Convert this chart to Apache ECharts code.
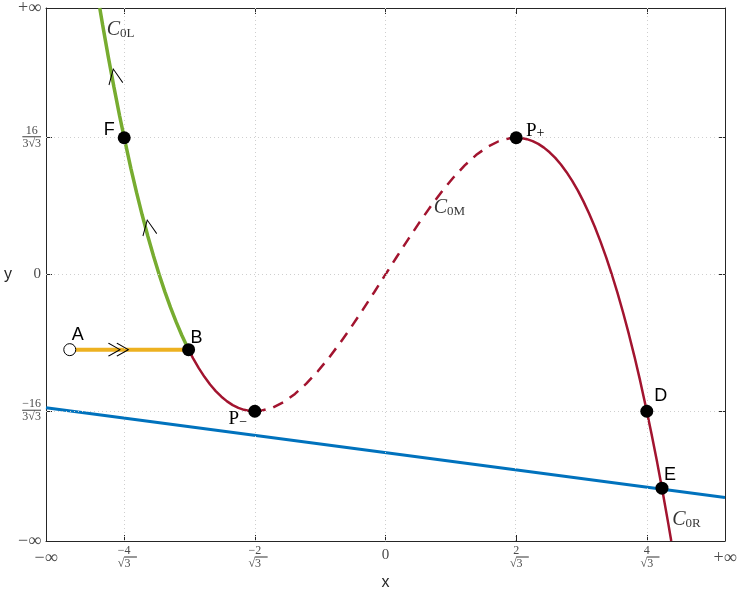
<!DOCTYPE html>
<html>
<head>
<meta charset="utf-8">
<script src="https://cdn.jsdelivr.net/npm/echarts@6/dist/echarts.min.js"></script>
<style>
  html, body { margin: 0; padding: 0; background: #fff; }
  #chart { width: 741px; height: 590px; }
</style>
</head>
<body>
<div id="chart"></div>
<script>
// axis ticks (x = -inf..+inf drawn as -3..3, y = -inf..+inf drawn as -6..6)
const xTickValues = [-3, -2.3094, -1.1547, 0, 1.1547, 2.3094, 3]
const xTickLabels = ['−∞', '−4/√3', '−2/√3', '0', '2/√3', '4/√3', '+∞']
const yTickValues = [-6, -3.0792, 0, 3.0792, 6]
const yTickLabels = ['−∞', '−16/3√3', '0', '16/3√3', '+∞']
const xGridValues = [-2.3094, -1.1547, 0, 1.1547, 2.3094]
const yGridValues = [-3.0792, 0, 3.0792]

// curves
const c0lPoints = [[-2.525, 6.0], [-2.5, 5.625], [-2.45, 4.906], [-2.4, 4.224], [-2.35, 3.578],
  [-2.309, 3.079], [-2.25, 2.39], [-2.2, 1.848], [-2.15, 1.338], [-2.1, 0.861], [-2.05, 0.415],
  [-2.0, 0], [-1.95, -0.385], [-1.9, -0.741], [-1.85, -1.068], [-1.8, -1.368], [-1.74, -1.692]]
const c0LowPoints = [[-1.74, -1.692], [-1.7, -1.887], [-1.65, -2.108], [-1.6, -2.304], [-1.55, -2.476],
  [-1.5, -2.625], [-1.45, -2.751], [-1.4, -2.856], [-1.35, -2.940], [-1.3, -3.003], [-1.25, -3.047],
  [-1.2, -3.072], [-1.155, -3.079]]
const c0mPoints = [[-1.155, -3.079], [-1.1, -3.069], [-1.0, -3.0], [-0.9, -2.871], [-0.8, -2.688],
  [-0.7, -2.457], [-0.6, -2.184], [-0.5, -1.875], [-0.4, -1.536], [-0.3, -1.173], [-0.2, -0.792],
  [-0.1, -0.399], [0, 0], [0.1, 0.399], [0.2, 0.792], [0.3, 1.173], [0.4, 1.536], [0.5, 1.875],
  [0.6, 2.184], [0.7, 2.457], [0.8, 2.688], [0.9, 2.871], [1.0, 3.0], [1.1, 3.069], [1.155, 3.079]]
const c0rPoints = [[1.155, 3.079], [1.2, 3.072], [1.25, 3.047], [1.3, 3.003], [1.35, 2.940],
  [1.4, 2.856], [1.45, 2.751], [1.5, 2.625], [1.55, 2.476], [1.6, 2.304], [1.65, 2.108],
  [1.7, 1.887], [1.75, 1.641], [1.8, 1.368], [1.85, 1.068], [1.9, 0.741], [1.95, 0.385],
  [2.0, 0], [2.05, -0.415], [2.1, -0.861], [2.15, -1.338], [2.2, -1.848], [2.25, -2.39],
  [2.309, -3.079], [2.35, -3.578], [2.4, -4.224], [2.45, -4.906], [2.5, -5.625], [2.525, -6.0]]
const bluePoints = [[-3, -3.0], [3, -5.02]]
const orangePoints = [[-2.79, -1.692], [-1.74, -1.692]]

// marked points
const pointNames = ['F', 'B', 'P+', 'P−', 'D', 'E']
const pointValues = [[-2.309, 3.079], [-1.74, -1.692], [1.155, 3.079], [-1.155, -3.079], [2.309, -3.079], [2.443, -4.81]]
const startName = 'A'
const startValue = [-2.79, -1.692]

// direction arrows
const upArrows = [[-2.394, 4.46], [-2.094, 1.06]]
const rightArrows = [[-2.36, -1.692]]

// curve names
const curveNames = ['C0L', 'C0M', 'C0R']
const curveLabelAt = [[-2.341, 5.5], [0.565, 1.5], [2.659, -5.53]]

const serif = "'Liberation Serif', 'DejaVu Serif', serif"
const sans = "'Liberation Sans', Arial, sans-serif"
const tickColor = '#4a4a4a'

function tickText (values, labels, v) {
  let best = 0
  for (let i = 0; i < values.length; i++) {
    if (Math.abs(values[i] - v) < Math.abs(values[best] - v)) best = i
  }
  const t = labels[best]
  if (t.indexOf('/') < 0) return t.indexOf('∞') >= 0 ? '{inf|' + t + '}' : '{z|' + t + '}'
  const parts = t.split('/')
  return '{n|' + parts[0] + '}\n{hr|}\n{d|' + parts[1] + '}'
}

const yTickRich = {
  inf: { fontFamily: serif, fontSize: 18, color: tickColor },
  z: { fontFamily: serif, fontSize: 15, color: tickColor },
  n: { fontFamily: serif, fontSize: 12, lineHeight: 12, color: tickColor, align: 'center' },
  hr: { width: '100%', height: 0, borderWidth: 0.7, borderColor: tickColor },
  d: { fontFamily: serif, fontSize: 12, lineHeight: 14, color: tickColor, align: 'center' }
}
const xTickRich = Object.assign({}, yTickRich, {
  inf: { fontFamily: serif, fontSize: 18, color: tickColor, padding: [4, 0, 0, 0] },
  z: { fontFamily: serif, fontSize: 15, color: tickColor, padding: [3, 0, 0, 0] }
})

// point label placement (pixel offsets from the dot)
const pointLabelOffset = {
  F: [-15, -8], B: [8, -12], 'P+': [19, -7], 'P−': [-17, 8], D: [14, -15], E: [8, -13], A: [8, -15]
}

function pointLabel (name) {
  if (name[0] === 'P') return '{p|P}{s|' + name.slice(1) + '}'
  return '{l|' + name + '}'
}

const labelRich = {
  l: { fontFamily: sans, fontSize: 18, color: '#000' },
  p: { fontFamily: serif, fontSize: 19, color: '#000', lineHeight: 20 },
  s: { fontFamily: serif, fontSize: 14, color: '#000', verticalAlign: 'bottom', lineHeight: 20 },
  c: { fontFamily: serif, fontSize: 20, fontStyle: 'italic', color: '#000', lineHeight: 20 },
  cs: { fontFamily: serif, fontSize: 13, color: '#000', verticalAlign: 'bottom', lineHeight: 20 }
}

const chart = echarts.init(document.getElementById('chart'), null, { renderer: 'canvas' })

const axisLine = { show: true, onZero: false, lineStyle: { color: '#262626', width: 1 } }
const xTick = { show: true, inside: true, length: 6, customValues: xTickValues.slice(1, -1), lineStyle: { color: '#262626' } }
const yTick = { show: true, inside: true, length: 6, customValues: yTickValues.slice(1, -1), lineStyle: { color: '#262626' } }

chart.setOption({
  animation: false,
  backgroundColor: '#fff',
  grid: { left: 46, right: 16, top: 8, bottom: 49, outerBoundsMode: 'none', containLabel: false },
  xAxis: [
    {
      type: 'value', min: -3, max: 3, position: 'bottom',
      name: 'x', nameLocation: 'middle', nameGap: 32,
      nameTextStyle: { fontFamily: sans, fontSize: 16, color: '#262626' },
      axisLine: axisLine, axisTick: xTick,
      axisLabel: {
        customValues: xTickValues, margin: 4, hideOverlap: false,
        formatter: v => tickText(xTickValues, xTickLabels, v), rich: xTickRich
      },
      splitLine: { show: false }
    },
    {
      type: 'value', min: -3, max: 3, position: 'top',
      axisLine: axisLine, axisTick: xTick,
      axisLabel: { show: false },
      splitLine: { show: false }
    }
  ],
  yAxis: [
    {
      type: 'value', min: -6, max: 6, position: 'left',
      name: 'y', nameLocation: 'middle', nameGap: 34, nameRotate: 0,
      nameTextStyle: { fontFamily: sans, fontSize: 16, color: '#262626' },
      axisLine: axisLine, axisTick: yTick,
      axisLabel: {
        customValues: yTickValues, margin: 5, hideOverlap: false,
        formatter: v => tickText(yTickValues, yTickLabels, v), rich: yTickRich
      },
      splitLine: { show: false }
    },
    {
      type: 'value', min: -6, max: 6, position: 'right',
      axisLine: axisLine, axisTick: yTick,
      axisLabel: { show: false },
      splitLine: { show: false }
    }
  ],
  series: [
    {
      // dotted grid
      type: 'line', data: [], z: 0, silent: true,
      markLine: {
        symbol: 'none', silent: true, label: { show: false },
        lineStyle: { color: '#cfcfcf', type: [1, 3], width: 1 },
        data: xGridValues.map(v => ({ xAxis: v })).concat(yGridValues.map(v => ({ yAxis: v })))
      }
    },
    {
      type: 'line', data: bluePoints, symbol: 'none', z: 2,
      lineStyle: { color: '#0072BD', width: 3 }
    },
    {
      type: 'line', data: c0LowPoints, symbol: 'none', z: 3,
      lineStyle: { color: '#A2142F', width: 2.5 }
    },
    {
      type: 'line', data: c0mPoints, symbol: 'none', z: 3,
      lineStyle: { color: '#A2142F', width: 2.5, type: [11, 8] }
    },
    {
      type: 'line', data: c0rPoints, symbol: 'none', z: 3,
      lineStyle: { color: '#A2142F', width: 2.5 }
    },
    {
      type: 'line', data: c0lPoints, symbol: 'none', z: 4,
      lineStyle: { color: '#77AC30', width: 3.5 }
    },
    {
      type: 'line', data: orangePoints, symbol: 'none', z: 4,
      lineStyle: { color: '#EDB120', width: 4 }
    },
    {
      // arrows along the green curve
      type: 'scatter', data: upArrows, z: 6, silent: true,
      symbol: 'path://M0,15L7,0L14,15', symbolSize: [14, 15], symbolRotate: 10,
      itemStyle: { color: 'transparent', borderColor: '#000', borderWidth: 1, opacity: 1 }
    },
    {
      type: 'scatter', data: rightArrows, z: 6, silent: true,
      symbol: 'path://M0,0L11,6L0,12M8,0L19,6L8,12', symbolSize: [20, 13],
      itemStyle: { color: 'transparent', borderColor: '#000', borderWidth: 1, opacity: 1 }
    },
    {
      type: 'scatter', z: 8, symbolSize: 13,
      itemStyle: { color: '#000', opacity: 1 },
      data: pointNames.map((n, i) => ({
        name: n, value: pointValues[i], label: { offset: pointLabelOffset[n] }
      })),
      label: {
        show: true, position: 'inside', rich: labelRich,
        formatter: p => pointLabel(p.name)
      }
    },
    {
      type: 'scatter', z: 8, symbolSize: 12,
      itemStyle: { color: '#fff', borderColor: '#000', borderWidth: 1, opacity: 1 },
      data: [{ name: startName, value: startValue }],
      label: { show: true, position: 'inside', rich: labelRich, formatter: p => pointLabel(p.name), offset: pointLabelOffset.A }
    },
    {
      type: 'scatter', z: 8, symbolSize: 1,
      itemStyle: { color: 'transparent' },
      data: curveNames.map((n, i) => ({ name: n, value: curveLabelAt[i] })),
      label: {
        show: true, position: 'inside', rich: labelRich,
        formatter: p => '{c|C}{cs|' + p.name.slice(1) + '}'
      }
    }
  ]
})
</script>
</body>
</html>
